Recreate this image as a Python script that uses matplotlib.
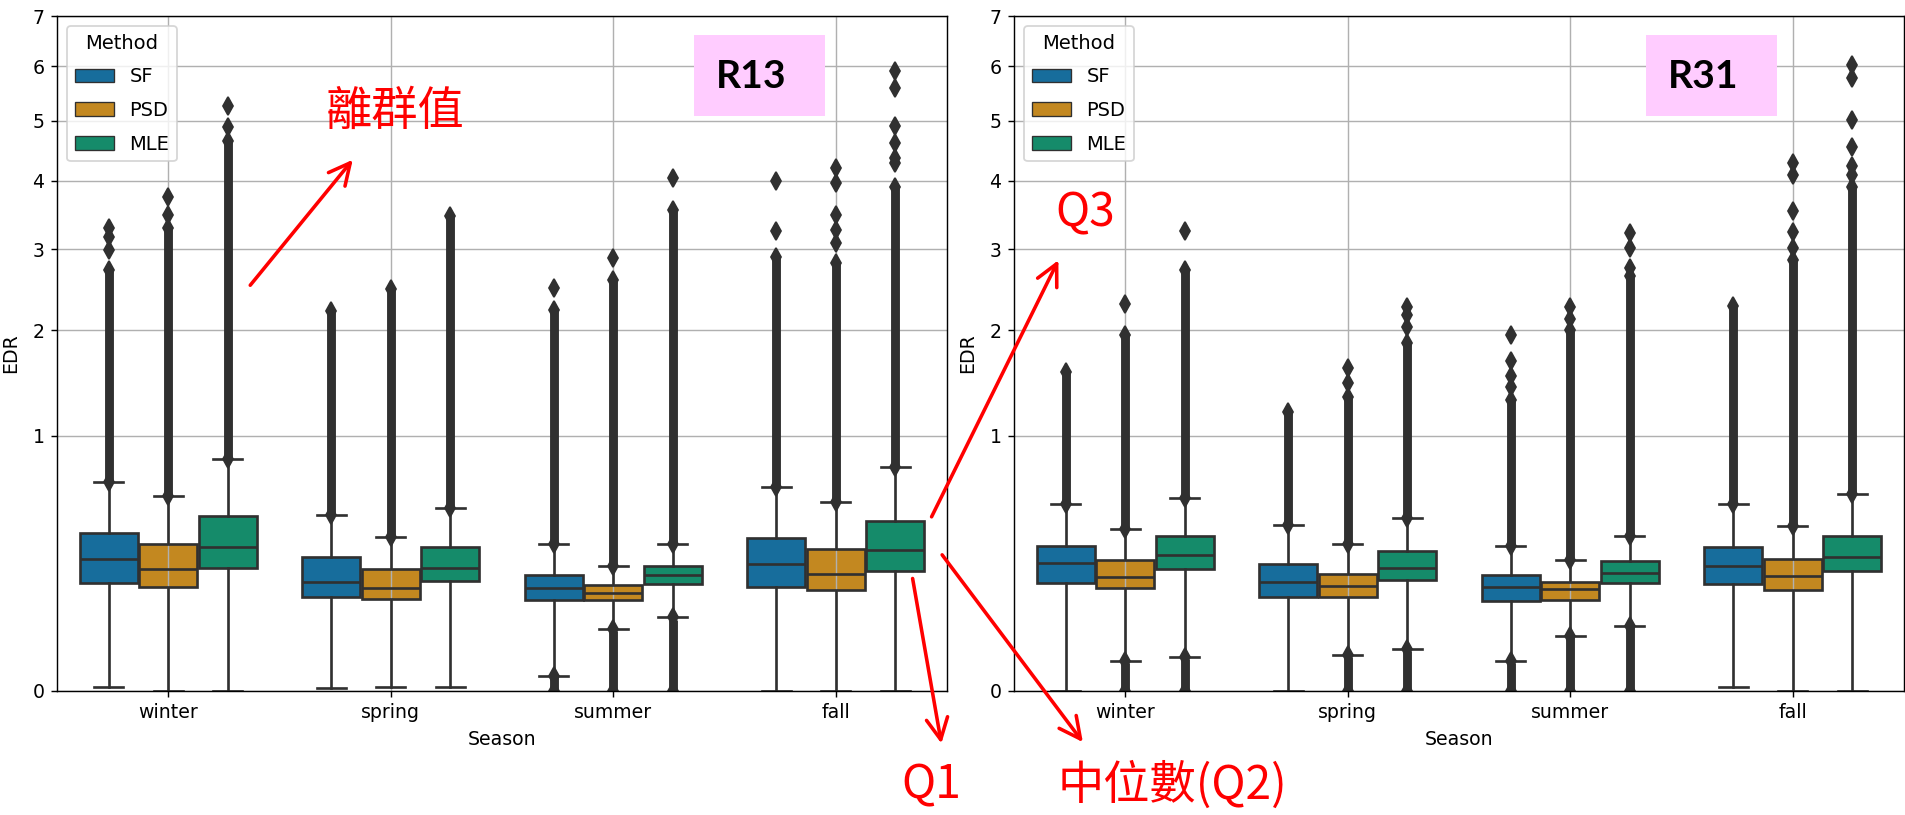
import colorsys
import numpy as np
import matplotlib
matplotlib.use("Agg")
import matplotlib.pyplot as plt
from matplotlib.colors import to_rgb, rgb2hex
from matplotlib.patches import Patch, Rectangle, FancyArrowPatch

W, H, DPI = 1905, 815, 128
plt.rcParams["font.size"] = 10.6

seasons = ["winter", "spring", "summer", "fall"]
methods = ["SF", "PSD", "MLE"]
base_colors = ["#0173b2", "#de8f05", "#029e73"]

# ---- R13 (rows: SF, PSD, MLE ; columns: winter, spring, summer, fall) ----
r13_q1 = [[0.180, 0.136, 0.126, 0.166],
          [0.167, 0.130, 0.127, 0.157],
          [0.231, 0.186, 0.175, 0.221]]
r13_med = [[0.269, 0.182, 0.164, 0.248],
           [0.229, 0.164, 0.147, 0.212],
           [0.317, 0.231, 0.207, 0.307]]
r13_q3 = [[0.382, 0.275, 0.208, 0.358],
          [0.331, 0.230, 0.172, 0.310],
          [0.471, 0.317, 0.240, 0.446]]
r13_whislo = [[0.0002, 0.0001, 0.0036, 0.0],
              [0.0, 0.0002, 0.059, 0.0],
              [0.0, 0.0002, 0.0835, 0.0]]
r13_whishi = [[0.673, 0.476, 0.331, 0.638],
              [0.584, 0.363, 0.240, 0.549],
              [0.825, 0.515, 0.331, 0.773]]
# top of the densely packed outliers above the upper whisker
r13_dense_hi = [[2.72, 2.22, 2.23, 2.90],
                [3.30, 2.48, 2.60, 2.81],
                [4.65, 3.46, 3.56, 3.91]]
# isolated outliers
r13_points = [[[2.99, 3.17, 3.29], [], [2.49], [3.25, 3.99]],
              [[3.48, 3.75], [], [2.88], [3.08, 3.27, 3.48, 3.96, 4.21]],
              [[4.88, 5.26], [], [4.05], [4.28, 4.36, 4.61, 4.91, 5.58, 5.91]]]
# top of the dense outliers below the lower whisker (None = no low outliers)
r13_low_top = [[None, None, 0.003, None],
               [None, None, 0.055, None],
               [None, None, 0.078, None]]

# ---- R31 ----
r31_q1 = [[0.179, 0.136, 0.125, 0.175],
          [0.162, 0.137, 0.126, 0.157],
          [0.228, 0.190, 0.180, 0.221]]
r31_med = [[0.251, 0.182, 0.165, 0.239],
           [0.200, 0.169, 0.160, 0.203],
           [0.283, 0.234, 0.213, 0.277]]
r31_q3 = [[0.324, 0.249, 0.208, 0.317],
          [0.263, 0.211, 0.182, 0.267],
          [0.371, 0.301, 0.259, 0.371]]
r31_whislo = [[0.0, 0.0, 0.0141, 0.0002],
              [0.0138, 0.0199, 0.0465, 0.0],
              [0.0181, 0.0267, 0.0655, 0.0]]
r31_whishi = [[0.536, 0.422, 0.324, 0.536],
              [0.405, 0.331, 0.263, 0.420],
              [0.574, 0.460, 0.369, 0.595]]
r31_dense_hi = [[1.56, 1.20, 1.30, 2.28],
                [1.95, 1.33, 2.00, 2.85],
                [2.72, 1.86, 2.64, 3.91]]
r31_points = [[[], [], [1.42, 1.52, 1.67, 1.95], []],
              [[2.30], [1.455, 1.60], [2.13, 2.27], [3.01, 3.23, 3.545, 4.09, 4.28]],
              [[3.25], [2.04, 2.17, 2.27], [2.745, 3.01, 3.22], [4.09, 4.24, 4.55, 5.01, 5.77, 6.02]]]
r31_low_top = [[None, None, 0.012, None],
               [0.012, 0.018, 0.044, None],
               [0.016, 0.025, 0.063, None]]


def desat(c, prop=0.75):
    h, l, s = colorsys.rgb_to_hls(*to_rgb(c))
    return colorsys.hls_to_rgb(h, l, s * prop)


colors = [desat(c) for c in base_colors]
lum = min(colorsys.rgb_to_hls(*to_rgb(c))[1] for c in base_colors) * 0.6
gray = rgb2hex((lum, lum, lum))


def draw_panel(ax, q1, med, q3, wlo, whi, dense_hi, pts, low_top):
    step = 0.8 / len(methods)
    line = dict(color=gray, linewidth=1.5)
    for m in range(len(methods)):
        pos = np.arange(len(seasons)) + (m - 1) * step
        stats = [dict(q1=q1[m][s], med=med[m][s], q3=q3[m][s],
                      whislo=wlo[m][s], whishi=whi[m][s], fliers=[])
                 for s in range(len(seasons))]
        art = ax.bxp(stats, positions=pos, widths=step * 0.98, patch_artist=True,
                     showfliers=False, manage_ticks=False,
                     boxprops=dict(facecolor=colors[m], edgecolor=gray, linewidth=1.5),
                     medianprops=line, whiskerprops=line, capprops=line)
        for b in art["boxes"]:
            b.set_zorder(1)

        # outliers: dense runs drawn as a thick bar, isolated ones as diamonds
        for s in range(len(seasons)):
            x = pos[s]
            ys = [whi[m][s], dense_hi[m][s]] + pts[m][s]
            ax.vlines(x, whi[m][s], dense_hi[m][s], color=gray, lw=5, zorder=2)
            if low_top[m][s] is not None:
                ax.vlines(x, 0, low_top[m][s], color=gray, lw=5, zorder=2)
                ys += [0, wlo[m][s]]
            ax.plot([x] * len(ys), ys, ls="none", marker="d", ms=7,
                    mfc=gray, mec=gray, mew=1, zorder=2)

    ax.set_yscale("function", functions=(lambda v: np.sqrt(np.clip(v, 0, None)), np.square))
    ax.set_ylim(0, 7)
    ax.set_yticks(range(8))
    ax.set_yticklabels([str(i) for i in range(8)])
    ax.set_xlim(-0.5, len(seasons) - 0.5)
    ax.set_xticks(range(len(seasons)))
    ax.set_xticklabels(seasons)
    ax.grid(True)
    ax.set_xlabel("Season")
    ax.set_ylabel("EDR", labelpad=7)
    handles = [Patch(facecolor=colors[m], edgecolor=gray, linewidth=0.75, label=methods[m])
               for m in range(len(methods))]
    ax.legend(handles=handles, title="Method", loc="upper left",
              fontsize=11, title_fontsize=11, labelspacing=0.75)


fig = plt.figure(figsize=(W / DPI, H / DPI), dpi=DPI)


def fx(x):
    return x / W


def fy(y):
    return 1 - y / H


ax1 = fig.add_axes([fx(57), fy(691), 890 / W, 675 / H])
ax2 = fig.add_axes([fx(1014), fy(691), 890 / W, 675 / H])
draw_panel(ax1, r13_q1, r13_med, r13_q3, r13_whislo, r13_whishi, r13_dense_hi, r13_points, r13_low_top)
draw_panel(ax2, r31_q1, r31_med, r31_q3, r31_whislo, r31_whishi, r31_dense_hi, r31_points, r31_low_top)

# pink tags
for label, x0 in [("R13", 694), ("R31", 1646)]:
    fig.add_artist(Rectangle((fx(x0), fy(116)), 131 / W, 81 / H, transform=fig.transFigure,
                             facecolor="#ffccff", edgecolor="none", zorder=5))
    fig.text(fx(x0 + 57), fy(76), label, ha="center", va="center", fontsize=22,
             fontweight="bold", family=["Lato", "DejaVu Sans"], zorder=6)

# red annotations
cjk = ["Noto Sans CJK TC", "DejaVu Sans"]
notes = [("離群值", 395, 112), ("Q3", 1085, 213), ("Q1", 931, 785), ("中位數(Q2)", 1172, 786)]
for txt, x, y in notes:
    fig.text(fx(x), fy(y), txt, color="red", fontsize=26, family=cjk,
             ha="center", va="center", zorder=6)

arrows = [((248, 288), (355, 157)), ((930, 520), (1060, 257)),
          ((912, 575), (942, 747)), ((940, 552), (1085, 745))]
for (xa, ya), (xb, yb) in arrows:
    fig.add_artist(FancyArrowPatch((fx(xa), fy(ya)), (fx(xb), fy(yb)), transform=fig.transFigure,
                                   arrowstyle="->,head_length=0.6,head_width=0.3",
                                   mutation_scale=20, color="red", lw=2, zorder=6))

fig.savefig("out.png", dpi=DPI)
